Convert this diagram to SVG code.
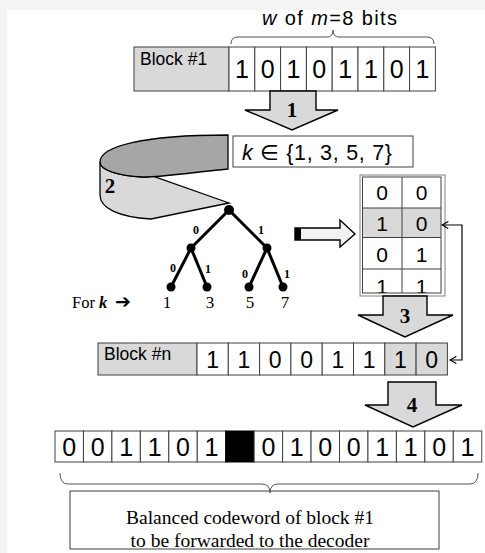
<svg xmlns="http://www.w3.org/2000/svg" width="485" height="553" viewBox="0 0 485 553">
<defs>
<style>
.cell{fill:#fff;stroke:#404040;stroke-width:1}
.gc{fill:#d9d9d9;stroke:#404040;stroke-width:1}
.sans{font-family:"Liberation Sans","DejaVu Sans",Arial,sans-serif;fill:#000}
.serif{font-family:"Liberation Serif","Times New Roman",serif;fill:#000}
.bit{font-family:"Liberation Sans","DejaVu Sans",Arial,sans-serif;text-anchor:middle;fill:#000}
.blk{fill:#d9d9d9;stroke:#000;stroke-width:1.4;stroke-linejoin:miter}
.num{font-family:"Liberation Serif","Times New Roman",serif;font-weight:bold;font-size:21px;text-anchor:middle}
.edge{stroke:#000;stroke-width:3;stroke-linecap:round}
.elab{font-family:"Liberation Serif","Times New Roman",serif;font-weight:bold;font-size:12px;text-anchor:middle}
.leaf{font-family:"Liberation Serif","Times New Roman",serif;font-size:17px;text-anchor:middle}
.brace{fill:none;stroke:#555;stroke-width:1}
</style>
<marker id="chev" viewBox="0 0 10 10" refX="9" refY="5" markerWidth="9" markerHeight="9" orient="auto-start-reverse" markerUnits="userSpaceOnUse"><path d="M2,1 L9,5 L2,9" fill="none" stroke="#000" stroke-width="1.3"/></marker>
<clipPath id="tclip"><rect x="362.5" y="177" width="78.5" height="116"/></clipPath>
</defs>
<rect x="0" y="0" width="485" height="553" fill="#f4f4f4"/>
<rect x="7" y="10" width="478" height="543" fill="#fff"/>

<g id="brace-top">
<text class="sans" x="262" y="25" font-size="20" textLength="135" lengthAdjust="spacing"><tspan font-style="italic">w</tspan> of <tspan font-style="italic">m</tspan>=8 bits</text>
<path class="brace" d="M231,44 Q231,37 238,37 H327 Q333,37 333,30 Q333,37 339,37 H427 Q434,37 434,44"/>
</g>

<g id="block1">
<rect class="gc" x="134" y="47" width="95" height="44"/>
<text class="sans" x="140" y="65" font-size="17.5">Block #1</text>
<rect class="cell" x="229" y="47" width="25.8" height="44"/>
<rect class="cell" x="254.8" y="47" width="25.8" height="44"/>
<rect class="cell" x="280.6" y="47" width="25.8" height="44"/>
<rect class="cell" x="306.4" y="47" width="25.8" height="44"/>
<rect class="cell" x="332.2" y="47" width="25.8" height="44"/>
<rect class="cell" x="358" y="47" width="25.8" height="44"/>
<rect class="cell" x="383.8" y="47" width="25.8" height="44"/>
<rect class="cell" x="409.6" y="47" width="25.8" height="44"/>
<g class="bit" font-size="25">
<text x="241.9" y="78">1</text><text x="267.7" y="78">0</text><text x="293.5" y="78">1</text><text x="319.3" y="78">0</text>
<text x="345.1" y="78">1</text><text x="370.9" y="78">1</text><text x="396.7" y="78">0</text><text x="422.5" y="78">1</text>
</g>
</g>

<g id="arrow1">
<path class="blk" d="M270,91 V110 H245 L292,130 L338,110 H316 V91 Z"/>
<text class="num" x="292" y="117">1</text>
</g>

<g id="kset">
<rect class="cell" x="233" y="136" width="180" height="31"/>
<text class="sans" x="242" y="160" font-size="21.5" textLength="150" lengthAdjust="spacing"><tspan font-style="italic">k</tspan> ∈ {1, 3, 5, 7}</text>
</g>

<g id="arrow2">
<path fill="#d9d9d9" stroke="#000" stroke-width="1.3" stroke-linejoin="miter" d="M100,162 C100,170 118,176 143,177 L148,177 L148,174.5 L229,203 L151,219 C118,217 100,208 100,195 Z"/>
<path fill="#a6a6a6" stroke="#000" stroke-width="1.3" d="M228,135 L228,169 C195,172 165,177 143,177 C118,176 100,170 100,162 C100,147 140,135 228,135 Z"/>
<text class="num" x="110" y="193" font-size="21">2</text>
</g>

<g id="tree">
<line class="edge" x1="229" y1="210" x2="191" y2="248"/>
<line class="edge" x1="229" y1="210" x2="267" y2="248"/>
<line class="edge" x1="191" y1="248" x2="171" y2="287"/>
<line class="edge" x1="191" y1="248" x2="207" y2="287"/>
<line class="edge" x1="267" y1="248" x2="249" y2="287"/>
<line class="edge" x1="267" y1="248" x2="283" y2="287"/>
<circle cx="229" cy="210" r="5"/>
<circle cx="191" cy="248" r="4.5"/>
<circle cx="267" cy="248" r="4.5"/>
<circle cx="171" cy="287" r="4.5"/>
<circle cx="207" cy="287" r="4.5"/>
<circle cx="249" cy="287" r="4.5"/>
<circle cx="283" cy="287" r="4.5"/>
<text class="elab" x="196" y="234">0</text>
<text class="elab" x="261" y="234">1</text>
<text class="elab" x="173" y="272">0</text>
<text class="elab" x="208" y="273">1</text>
<text class="elab" x="245" y="278">0</text>
<text class="elab" x="287" y="278">1</text>
<text class="leaf" x="167" y="308">1</text>
<text class="leaf" x="210" y="308">3</text>
<text class="leaf" x="250" y="308">5</text>
<text class="leaf" x="285" y="308">7</text>
<text class="serif" x="72" y="308" font-size="16.5">For <tspan font-weight="bold" font-style="italic">k</tspan><tspan x="115" font-family="DejaVu Sans,sans-serif" font-weight="bold" font-size="19">➔</tspan></text>
</g>

<g id="arrow-to-table">
<path fill="#f2f2f2" stroke="#000" stroke-width="1.4" d="M295,228 H340 V220 L355,234 L340,247 V240 H295 Z"/>
<rect x="295" y="228" width="6" height="12" fill="#000"/>
</g>

<g id="table">
<rect x="360" y="175" width="85" height="121" fill="#fff" stroke="#808080" stroke-width="1"/>
<rect x="362.5" y="208" width="78.5" height="29.5" fill="#d9d9d9"/>
<rect x="362.5" y="177" width="78.5" height="116" fill="none" stroke="#404040" stroke-width="1"/>
<path d="M402,177 V293 M362.5,208 H441 M362.5,237.5 H441 M362.5,269 H441" stroke="#404040" stroke-width="1" fill="none"/>
<g class="bit" font-size="21" clip-path="url(#tclip)">
<text x="382" y="200">0</text><text x="421.5" y="200">0</text>
<text x="382" y="231">1</text><text x="421.5" y="231">0</text>
<text x="382" y="262">0</text><text x="421.5" y="262">1</text>
<text x="382" y="294">1</text><text x="421.5" y="294">1</text>
</g>
</g>

<g id="arrow3">
<path class="blk" d="M383,296 V315 H358 L405,337 L453,315 H427 V296 Z"/>
<text class="num" x="405" y="323">3</text>
</g>

<g id="blockN">
<rect class="gc" x="98" y="343" width="99" height="32"/>
<text class="sans" x="104" y="360" font-size="17.5">Block #n</text>
<rect class="cell" x="197" y="343" width="31.3" height="32"/>
<rect class="cell" x="228.3" y="343" width="31.3" height="32"/>
<rect class="cell" x="259.6" y="343" width="31.3" height="32"/>
<rect class="cell" x="290.9" y="343" width="31.3" height="32"/>
<rect class="cell" x="322.2" y="343" width="31.3" height="32"/>
<rect class="cell" x="353.5" y="343" width="31.3" height="32"/>
<rect class="gc" x="384.8" y="343" width="31.3" height="32"/>
<rect class="gc" x="416.1" y="343" width="31.3" height="32"/>
<g class="bit" font-size="23">
<text x="212.65" y="367.5">1</text><text x="243.95" y="367.5">1</text><text x="275.25" y="367.5">0</text><text x="306.55" y="367.5">0</text>
<text x="337.85" y="367.5">1</text><text x="369.15" y="367.5">1</text><text x="400.45" y="367.5">1</text><text x="431.75" y="367.5">0</text>
</g>
</g>

<g id="arrow4">
<path class="blk" d="M388,382 V405 H365 L413,427 L462,405 H436 V382 Z"/>
<text class="num" x="412" y="412">4</text>
</g>

<g id="codeword">
<rect class="cell" x="55" y="431" width="28.45" height="31"/>
<rect class="cell" x="83.45" y="431" width="28.45" height="31"/>
<rect class="cell" x="111.9" y="431" width="28.45" height="31"/>
<rect class="cell" x="140.35" y="431" width="28.45" height="31"/>
<rect class="cell" x="168.8" y="431" width="28.45" height="31"/>
<rect class="cell" x="197.25" y="431" width="28.45" height="31"/>
<rect x="225.7" y="431" width="28.45" height="31" fill="#000" stroke="#000" stroke-width="1"/>
<rect class="cell" x="254.15" y="431" width="28.45" height="31"/>
<rect class="cell" x="282.6" y="431" width="28.45" height="31"/>
<rect class="cell" x="311.05" y="431" width="28.45" height="31"/>
<rect class="cell" x="339.5" y="431" width="28.45" height="31"/>
<rect class="cell" x="367.95" y="431" width="28.45" height="31"/>
<rect class="cell" x="396.4" y="431" width="28.45" height="31"/>
<rect class="cell" x="424.85" y="431" width="28.45" height="31"/>
<rect class="cell" x="453.3" y="431" width="28.45" height="31"/>
<g class="bit" font-size="25">
<text x="69.2" y="455.5">0</text><text x="97.7" y="455.5">0</text><text x="126.1" y="455.5">1</text><text x="154.6" y="455.5">1</text>
<text x="183" y="455.5">0</text><text x="211.5" y="455.5">1</text>
<text x="268.4" y="455.5">0</text><text x="296.8" y="455.5">1</text><text x="325.3" y="455.5">0</text><text x="353.7" y="455.5">0</text>
<text x="382.2" y="455.5">1</text><text x="410.6" y="455.5">1</text><text x="439.1" y="455.5">0</text><text x="467.5" y="455.5">1</text>
</g>
</g>

<g id="caption">
<rect class="cell" x="70" y="491" width="369" height="58"/>
<path class="brace" d="M60,473 Q60,484 68,484 H262 Q270,484 270,493 Q270,484 278,484 H470 Q478,484 478,473"/>
<text class="serif" x="250" y="524" font-size="19.5" text-anchor="middle">Balanced codeword of block #1</text>
<text class="serif" x="250" y="547" font-size="19.5" text-anchor="middle">to be forwarded to the decoder</text>
</g>

<g id="connectors">
<path d="M450,360 H462 V225 H442" fill="none" stroke="#000" stroke-width="1.2" marker-start="url(#chev)" marker-end="url(#chev)"/>
</g>
</svg>
